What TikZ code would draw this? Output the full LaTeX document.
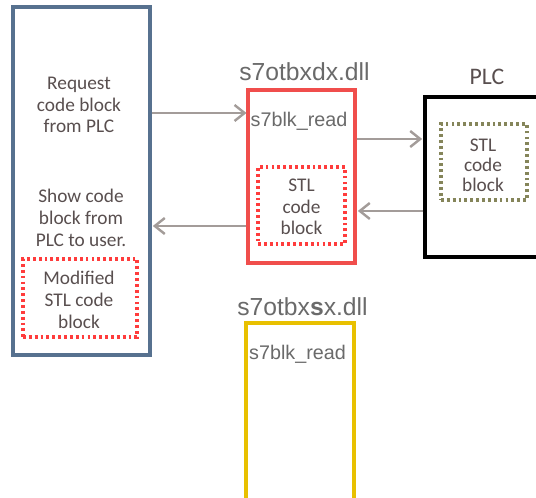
\documentclass[tikz,border=0pt]{standalone}
\usepackage{fontspec}
\setmainfont{Carlito}
\newfontfamily\arialfont{Liberation Sans}
\usetikzlibrary{arrows.meta}
\definecolor{leftblue}{HTML}{57718F}
\definecolor{dllred}{HTML}{F04E4C}
\definecolor{dotred}{HTML}{FF3C3C}
\definecolor{dotolive}{HTML}{85855A}
\definecolor{dllyellow}{HTML}{E8C000}
\definecolor{arrowgray}{HTML}{A39C99}
\definecolor{txtbrown}{HTML}{594F4F}
\definecolor{txtgray}{HTML}{6A6A6A}
\tikzset{
  panel/.style={draw, line width=2.3pt, inner sep=0pt},
  dotbox/.style={draw, line width=2.5pt, dash pattern=on 2.1pt off 2.3pt, inner sep=0pt},
  body/.style={text=txtbrown, align=center, font=\fontsize{14.5}{16.3}\selectfont},
  dlltitle/.style={text=txtgray, font=\arialfont\fontsize{18.5}{21}\selectfont},
  funcname/.style={text=txtgray, font=\arialfont\fontsize{14.8}{17}\selectfont},
  flow/.style={draw=arrowgray, line width=1.8pt, -{Straight Barb[length=7.5pt,width=12pt,line width=1.8pt]}},
}
\begin{document}
\begin{tikzpicture}[x=0.75pt,y=-0.75pt]
\useasboundingbox (0,0) rectangle (536,498);
\fill[white] (0,0) rectangle (536,498);

% client application
\node[panel, draw=leftblue, minimum width=102.75pt, minimum height=261pt] (app) at (81.5,181) {};
\node[body] (req) at (79,105) {Request\\code block\\from PLC};
\node[body] (show) at (81,218) {Show code\\block from\\PLC to user.};
\node[dotbox, draw=dotred, minimum width=85.5pt, minimum height=58.5pt] (mod) at (80,298) {};
\node[body] (modtxt) at (79,300) {Modified\\STL code\\block};

% s7otbxdx.dll
\node[panel, draw=dllred, minimum width=80.25pt, minimum height=129.75pt] (dx) at (301.5,176.5) {};
\node[dlltitle] (dxtitle) at (304.5,72) {s7otbxdx.dll};
\node[funcname] (dxread) at (299,121) {s7blk\_read};
\node[dotbox, draw=dotred, minimum width=65.25pt, minimum height=57.75pt] (dxstl) at (301.5,205.5) {};
\node[body] (dxstltxt) at (301.5,207) {STL\\code\\block};

% PLC
\node[panel, draw=black, minimum width=101.25pt, minimum height=120pt] (plc) at (492.5,177) {};
\node[text=txtbrown, font=\fontsize{17.8}{20}\selectfont] (plctitle) at (487,77) {PLC};
\node[dotbox, draw=dotolive, minimum width=64.5pt, minimum height=57pt] (plcstl) at (484,162) {};
\node[body, font=\fontsize{14.5}{15}\selectfont] (plcstltxt) at (483,165) {STL\\code\\block};

% s7otbxsx.dll
\node[panel, draw=dllyellow, minimum width=81pt, minimum height=147.75pt] (sx) at (300,421.5) {};
\node[dlltitle] (sxtitle) at (302.5,307) {s7otbx\textbf{s}x.dll};
\node[funcname] (sxread) at (297.5,354) {s7blk\_read};

% calls between the parts
\draw[flow] (app.east |- 0,113) -- (dx.west |- 0,113);
\draw[flow] (dx.east |- 0,139) -- ([xshift=-1pt]plc.west |- 0,139);
\draw[flow] (plc.west |- 0,211) -- ([xshift=1pt]dx.east |- 0,211);
\draw[flow] (dx.west |- 0,226) -- ([xshift=1pt]app.east |- 0,226);
\end{tikzpicture}
\end{document}
